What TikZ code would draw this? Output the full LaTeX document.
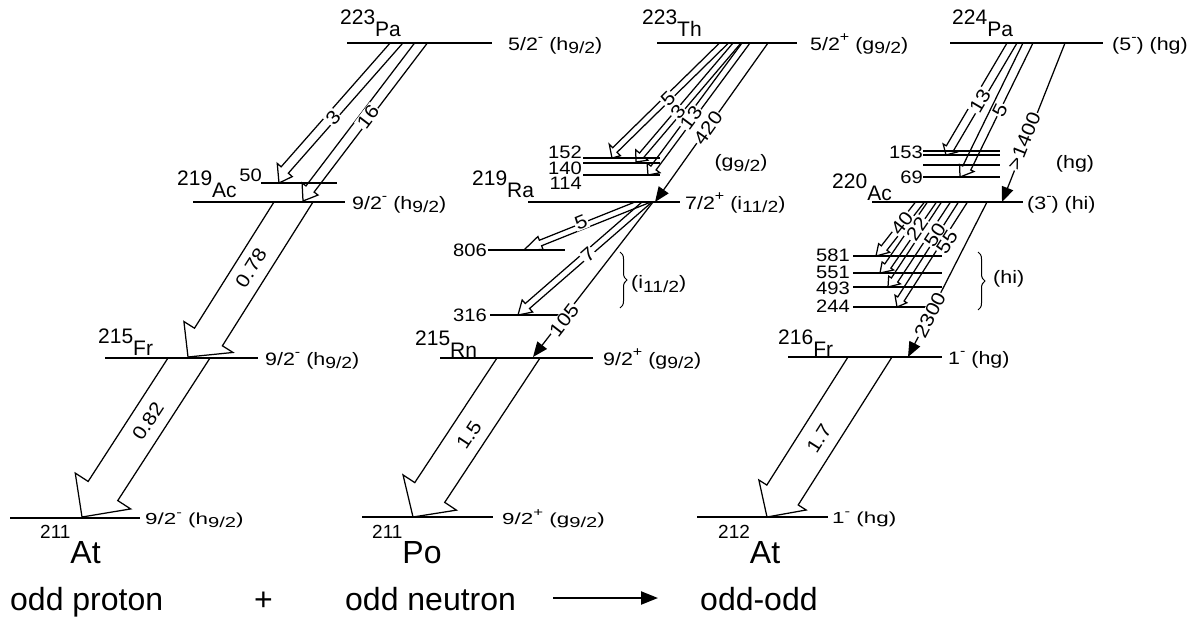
\documentclass[tikz,border=0pt]{standalone}
\usepackage{graphicx}
\usepackage{fontspec}
\setmainfont{Liberation Sans}
\usetikzlibrary{arrows.meta,decorations.pathreplacing}

\newcommand\fs[1]{\fontsize{#1}{#1}\selectfont}
% mass number raised beside the element symbol
\newcommand\nuc[2]{\raisebox{12pt}{#1}#2}
\newcommand\nucbig[2]{{\fs{19}\raisebox{25pt}{#1}}{\fs{32}#2}}
% lowered / raised parts of the spin labels
\newcommand\lo[1]{\raisebox{-0.22em}{\scalebox{0.9}{#1}}}
\newcommand\hi[1]{\raisebox{0.45em}{\scalebox{0.75}{#1}}}
% widened label texts
\newcommand\spinlab[1]{\scalebox{1.19}[1]{\fs{18}#1}}
\newcommand\spinlabsm[1]{\scalebox{1.4}[1]{\fs{16}#1}}
\newcommand\widen[1]{\scalebox{1.12}[1]{#1}}

% hollow transition arrow: top centre (#1,#2) on the upper level, horizontal
% half width #3, slope dx/dy #4, vertical drop #5 to the head base,
% head half width #6, tip (#7,#8) on the lower level
\newcommand\fatarrow[8]{%
  \pgfmathsetmacro\fc{sqrt(1+(#4)*(#4))}%
  \pgfmathsetmacro\fw{(#3)/\fc}%
  \pgfmathsetmacro\fbx{(#1)+(#4)*(#5)}%
  \pgfmathsetmacro\fby{(#2)+(#5)}%
  \pgfmathsetmacro\fnx{1/\fc}%
  \pgfmathsetmacro\fny{-(#4)/\fc}%
  \draw[fatband] ({#1-#3},#2) -- ({\fbx-\fw*\fnx},{\fby-\fw*\fny})
    -- ({\fbx-#6*\fnx},{\fby-#6*\fny}) -- (#7,#8)
    -- ({\fbx+#6*\fnx},{\fby+#6*\fny}) -- ({\fbx+\fw*\fnx},{\fby+\fw*\fny})
    -- ({#1+#3},#2);}
% intensity label written along a transition of slope #3
\newcommand\translabel[5]{\node[lab, rotate={atan(-1/(#3))}] (#5) at (#1,#2) {\widen{#4}};}
% level line with named ends
\newcommand\lvl[4]{\draw[lvline] (#2,#4) coordinate (#1-l) -- (#3,#4) coordinate (#1-r);}

\begin{document}
\begin{tikzpicture}[x=1pt,y=-1pt,
  lvline/.style={line width=1.8pt},
  fatband/.style={line width=1.25pt, line join=miter},
  linearrow/.style={line width=1.25pt, -{Triangle[length=15pt,width=12pt]}},
  lab/.style={inner sep=1pt, fill=white, font=\fs{19}},
  nucl/.style={inner sep=0pt, anchor=base west, font=\fs{21}},
  spin/.style={inner sep=0pt, anchor=base west},
  energy/.style={inner sep=0pt, anchor=east, font=\fs{18}},
  note/.style={inner sep=0pt},
  caption/.style={inner sep=0pt, anchor=base west, font=\fs{32}},
  bracket/.style={line width=1pt, decorate, decoration={brace, amplitude=7pt}}]
\useasboundingbox (0,0) rectangle (1193,622);

% ---------- odd proton: 223Pa -> 219Ac -> 215Fr -> 211At ----------
\lvl{pa223}{347}{492}{43}
\lvl{ac219x}{261}{337}{183}
\lvl{ac219}{193}{345}{202}
\lvl{fr215}{105}{258}{358}
\lvl{at211}{10}{140}{518}

\node[nucl] (n-pa223) at (340,36) {\nuc{223}{Pa}};
\node[nucl] (n-ac219) at (177,197) {\nuc{219}{Ac}};
\node[nucl] (n-fr215) at (98,355) {\nuc{215}{Fr}};
\node[inner sep=0pt, anchor=base west] (n-at211) at (40,563) {\nucbig{211}{At}};

\node[spin] (s-pa223) at (508,50) {\spinlab{5/2\hi{-} (h\lo{9/2})}};
\node[spin] (s-ac219) at (352,209) {\spinlab{9/2\hi{-} (h\lo{9/2})}};
\node[spin] (s-fr215) at (265,365) {\spinlab{9/2\hi{-} (h\lo{9/2})}};
\node[spin] (s-at211) at (145,524) {\spinlabsm{9/2\hi{-} (h\lo{9/2})}};
\node[energy] (e-ac50) at (262,175) {\widen{50}};

\fatarrow{396.5}{43}{6.4}{-0.88}{127}{10}{279}{183}
\fatarrow{421}{43}{6.4}{-0.76}{146}{10}{303}{201}
\fatarrow{293.5}{202}{19.5}{-0.63}{135}{29}{188}{357}
\fatarrow{189}{358}{21}{-0.647}{133}{33}{82}{517}
\translabel{333}{118}{-0.88}{3}{t-a1}
\translabel{368}{117}{-0.76}{16}{t-a2}
\translabel{251}{268}{-0.63}{0.78}{t-b1}
\translabel{148}{421}{-0.647}{0.82}{t-b2}

% ---------- odd neutron: 223Th -> 219Ra -> 215Rn -> 211Po ----------
\lvl{th223}{657}{797}{43}
\lvl{ra152}{583}{660}{158}
\lvl{ra140}{583}{660}{163}
\lvl{ra114}{583}{660}{175}
\lvl{ra219}{528}{680}{202}
\lvl{ra806}{488}{565}{250}
\lvl{ra316}{490}{567}{315}
\lvl{rn215}{440}{593}{358}
\lvl{po211}{362}{493}{517}

\node[nucl] (n-th223) at (642,36) {\nuc{223}{Th}};
\node[nucl] (n-ra219) at (472,197) {\nuc{219}{Ra}};
\node[nucl] (n-rn215) at (415,357) {\nuc{215}{Rn}};
\node[inner sep=0pt, anchor=base west] (n-po211) at (372,563) {\nucbig{211}{Po}};

\node[spin] (s-th223) at (810,50) {\spinlab{5/2\hi{+} (g\lo{9/2})}};
\node[spin] (s-ra219) at (685,209) {\spinlab{7/2\hi{+} (i\lo{11/2})}};
\node[spin] (s-rn215) at (603,365) {\spinlab{9/2\hi{+} (g\lo{9/2})}};
\node[spin] (s-po211) at (502,524) {\spinlabsm{9/2\hi{+} (g\lo{9/2})}};
\node[energy] (e-152) at (582,152) {\widen{152}};
\node[energy] (e-140) at (582,168) {\widen{140}};
\node[energy] (e-114) at (582,183) {\widen{114}};
\node[energy] (e-806) at (487,250) {\widen{806}};
\node[energy] (e-316) at (487,315) {\widen{316}};
\node[note] (g-ra) at (741,163) {\spinlab{(g\lo{9/2})}};
\draw[bracket] (620,252) -- (620,308);
\node[note, anchor=west] (i-ra) at (631,284) {\spinlab{(i\lo{11/2})}};

\fatarrow{724}{43}{4.5}{-1.02}{107}{8}{612}{158}
\fatarrow{737}{43}{4}{-0.85}{112}{8}{636}{162}
\fatarrow{746}{43}{4}{-0.74}{125}{8}{648}{175}
\coordinate (th-top) at (768,43);
\coordinate (ra-hit) at (655,202);
\draw[linearrow] (th-top) -- (ra-hit);
\fatarrow{643}{202}{8}{-2.5}{41}{7}{524}{250}
\fatarrow{647}{202}{5}{-1.15}{104}{8}{518}{315}
\coordinate (ra-top) at (653,202);
\coordinate (rn-hit) at (533,357);
\draw[linearrow] (ra-top) -- (rn-hit);
\fatarrow{518.5}{358}{21.5}{-0.66}{134.5}{32}{413}{517}
\translabel{668}{99}{-1.02}{5}{t-c1}
\translabel{678}{112}{-0.85}{3}{t-c2}
\translabel{691}{118}{-0.74}{13}{t-c3}
\translabel{708}{128}{-0.71}{420}{t-c4}
\translabel{581}{222}{-2.5}{5}{t-d1}
\translabel{588}{255}{-1.15}{7}{t-d2}
\translabel{564}{320}{-0.776}{105}{t-d3}
\translabel{469}{435}{-0.66}{1.5}{t-b3}

% ---------- odd-odd: 224Pa -> 220Ac -> 216Fr -> 212At ----------
\lvl{pa224}{950}{1103}{43}
\lvl{ac153}{923}{1000}{151}
\lvl{ac150}{923}{1000}{155}
\lvl{ac100}{923}{1000}{165}
\lvl{ac69}{923}{1000}{177}
\lvl{ac220}{872}{1023}{202}
\lvl{ac581}{853}{942}{256}
\lvl{ac551}{853}{942}{273}
\lvl{ac493}{853}{942}{287}
\lvl{ac244}{853}{942}{307}
\lvl{fr216}{788}{942}{357}
\lvl{at212}{697}{828}{517}

\node[nucl] (n-pa224) at (952,36) {\nuc{224}{Pa}};
\node[nucl] (n-ac220) at (832,200) {\nuc{220}{Ac}};
\node[nucl] (n-fr216) at (778,356) {\nuc{216}{Fr}};
\node[inner sep=0pt, anchor=base west] (n-at212) at (718,563) {\nucbig{212}{At}};

\node[spin] (s-pa224) at (1112,50) {\spinlab{(5\hi{-}) (hg)}};
\node[spin] (s-ac220) at (1027,209) {\spinlab{(3\hi{-}) (hi)}};
\node[spin] (s-fr216) at (948,364) {\spinlab{1\hi{-} (hg)}};
\node[spin] (s-at212) at (832,523) {\spinlabsm{1\hi{-} (hg)}};
\node[energy] (e-153) at (923,152) {\widen{153}};
\node[energy] (e-69) at (923,177) {\widen{69}};
\node[energy] (e-581) at (850,255) {\widen{581}};
\node[energy] (e-551) at (850,272) {\widen{551}};
\node[energy] (e-493) at (850,288) {\widen{493}};
\node[energy] (e-244) at (850,306) {\widen{244}};
\node[note] (hg-ac) at (1075,164) {\spinlab{(hg)}};
\draw[bracket] (978,252) -- (978,310);
\node[note, anchor=west] (hi-ac) at (993,279) {\spinlab{(hi)}};

\fatarrow{1012}{43}{5}{-0.59}{105}{8}{946}{155}
\fatarrow{1028}{43}{5}{-0.49}{125}{8}{960}{177}
\coordinate (pa-top) at (1065,43);
\coordinate (ac-hit) at (1002,202);
\draw[linearrow] (pa-top) -- (ac-hit);
\fatarrow{920}{202}{4.5}{-0.78}{46}{7}{876}{256}
\fatarrow{932}{202}{4.5}{-0.69}{64}{7}{880}{273}
\fatarrow{946}{202}{4.5}{-0.66}{78}{7}{888}{287}
\fatarrow{963}{202}{4.5}{-0.64}{97}{7}{897}{307}
\coordinate (ac-top) at (987,202);
\coordinate (fr-hit) at (908,357);
\draw[linearrow] (ac-top) -- (fr-hit);
\fatarrow{870}{357}{22}{-0.634}{138}{28}{767}{517}
\translabel{980}{101}{-0.59}{13}{t-e1}
\translabel{1000}{110}{-0.49}{5}{t-e2}
\translabel{1024}{141}{-0.40}{>1400}{t-e3}
\translabel{902}{223}{-0.78}{40}{t-f1}
\translabel{917}{229}{-0.69}{22}{t-f2}
\translabel{935}{235}{-0.66}{50}{t-f3}
\translabel{947}{242}{-0.64}{55}{t-f4}
\translabel{930}{315}{-0.51}{2300}{t-f5}
\translabel{819}{438}{-0.634}{1.7}{t-b4}

% ---------- caption row ----------
\node[caption] (c-p) at (10,610) {odd proton};
\node[caption] (c-plus) at (254,610) {+};
\node[caption] (c-n) at (345,610) {odd neutron};
\node[caption] (c-oo) at (700,610) {odd-odd};
\coordinate (cap-a) at (553,598);
\coordinate (cap-b) at (658,598);
\draw[line width=2.2pt, -{Triangle[length=17pt,width=13pt]}] (cap-a) -- (cap-b);
\end{tikzpicture}
\end{document}
